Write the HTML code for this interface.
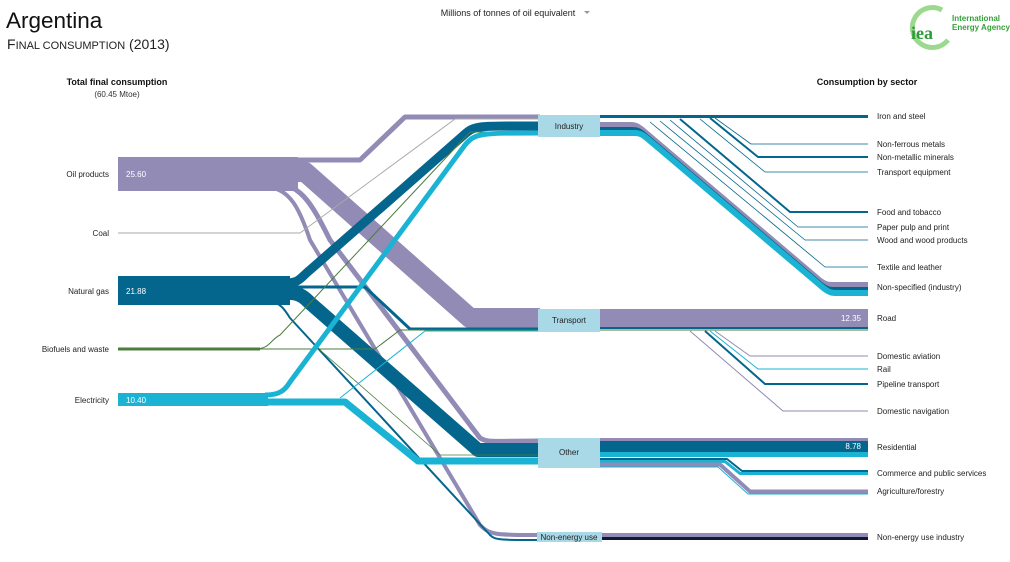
<!DOCTYPE html>
<html><head><meta charset="utf-8"><style>
html,body{margin:0;padding:0;background:#fff;}
body{width:1010px;height:562px;overflow:hidden;position:relative;font-family:"Liberation Sans",Arial,sans-serif;}
svg{position:absolute;left:0;top:0;}
</style></head><body>
<svg width="1010" height="562" viewBox="0 0 1010 562" xmlns="http://www.w3.org/2000/svg" font-family="Liberation Sans, Arial, sans-serif">
<g fill="none" stroke-linejoin="round" stroke-linecap="butt">
<rect x="118" y="157" width="180" height="34" fill="#928bb5" stroke="none"/>
<rect x="118" y="276" width="172" height="29" fill="#04668c" stroke="none"/>
<rect x="118" y="393" width="150" height="13" fill="#1ab3d4" stroke="none"/>
<line x1="118" y1="233" x2="300" y2="233" stroke="#aaa" stroke-width="1"/>
<line x1="118" y1="349" x2="260" y2="349" stroke="#4b7d3e" stroke-width="3"/>

<path d="M290 160 H360 L405 117 H540" stroke="#928bb5" stroke-width="5"/>
<path d="M290 172 H305 L470 318 H540" stroke="#928bb5" stroke-width="20"/>
<path d="M240 183 H270 C300 183 310 200 330 240 L480 438 C488 443 492 441 540 441" stroke="#928bb5" stroke-width="5"/>
<path d="M240 187 H265 C290 187 300 210 310 240 L480 525 C490 535 495 535 540 535" stroke="#928bb5" stroke-width="4"/>
<path d="M300 233 L455 119 H540" stroke="#aaa" stroke-width="1"/>
<path d="M285 283 C300 283 300 278 310 270 L465 134 C475 125 480 126 540 126" stroke="#04668c" stroke-width="9"/>
<path d="M235 287 H365 L410 329 H540" stroke="#04668c" stroke-width="3"/>
<path d="M230 293 H290 C300 293 305 298 310 303 L478 450 H540" stroke="#04668c" stroke-width="14"/>
<path d="M230 302 H270 C280 302 285 310 290 318 L490 535 C495 540 500 540 540 540" stroke="#04668c" stroke-width="2"/>
<path d="M255 349 C270 349 270 340 280 335 L470 132 H540" stroke="#4b7d3e" stroke-width="1"/>
<path d="M250 349 H375 L400 330 H540" stroke="#4b7d3e" stroke-width="1"/>
<path d="M320 350 L440 455 H540" stroke="#4b7d3e" stroke-width="0.8"/>
<path d="M265 395 C280 395 285 390 290 382 L465 145 C475 133 480 133 540 133" stroke="#1ab3d4" stroke-width="5"/>
<path d="M340 398 L425 331 H540" stroke="#1ab3d4" stroke-width="1"/>
<path d="M268 402 H345 L418 461 H540" stroke="#1ab3d4" stroke-width="7"/>

<rect x="538" y="115" width="62" height="22" fill="#a9d8e6" stroke="none"/>
<rect x="538" y="309" width="62" height="23" fill="#a9d8e6" stroke="none"/>
<rect x="538" y="438" width="62" height="30" fill="#a9d8e6" stroke="none"/>
<rect x="537" y="532" width="65" height="10" fill="#a9d8e6" stroke="none"/>

<path d="M600 116.5 H868" stroke="#04668c" stroke-width="3"/>
<path d="M715 118 L751 144 H868" stroke="#04668c" stroke-width="0.8"/>
<path d="M710 118 L758 157 H868" stroke="#04668c" stroke-width="2"/>
<path d="M700 119 L765 172 H868" stroke="#04668c" stroke-width="0.8"/>
<path d="M680 119 L790 212 H868" stroke="#04668c" stroke-width="2"/>
<path d="M670 120 L798 227 H868" stroke="#04668c" stroke-width="0.8"/>
<path d="M660 121 L805 240 H868" stroke="#04668c" stroke-width="0.8"/>
<path d="M650 122 L825 267 H868" stroke="#04668c" stroke-width="0.8"/>
<path d="M600 124.5 H630 C636 124.5 638 126 642 129 L820 280 C826 284.5 828 284.5 834 284.5 H868" stroke="#928bb5" stroke-width="5"/>
<path d="M600 128.5 H632 C638 128.5 640 130 644 133 L822 284 C828 288.5 830 288.5 836 288.5 H868" stroke="#04668c" stroke-width="3"/>
<path d="M600 133 H634 C640 133 642 134.5 646 137.5 L824 288.5 C830 293 832 293 838 293 H868" stroke="#1ab3d4" stroke-width="6"/>

<rect x="600" y="309" width="268" height="18" fill="#928bb5" stroke="none"/>
<path d="M600 328 H868" stroke="#04668c" stroke-width="2"/>
<path d="M600 330 H868" stroke="#4b7d3e" stroke-width="1"/>
<path d="M715 331 L750 356 H868" stroke="#928bb5" stroke-width="1"/>
<path d="M710 331 L758 369 H868" stroke="#1ab3d4" stroke-width="1"/>
<path d="M705 331 L765 384 H868" stroke="#04668c" stroke-width="2"/>
<path d="M690 331 L783 411 H868" stroke="#928bb5" stroke-width="1"/>

<rect x="600" y="438" width="268" height="3" fill="#928bb5" stroke="none"/>
<rect x="600" y="441" width="268" height="11" fill="#04668c" stroke="none"/>
<rect x="600" y="452" width="268" height="5" fill="#1ab3d4" stroke="none"/>
<path d="M600 459 H727 L742 471 H868" stroke="#04668c" stroke-width="2"/>
<path d="M600 461.5 H725 L740 473.5 H868" stroke="#1ab3d4" stroke-width="3"/>
<path d="M600 464.5 H720 L750 491.5 H868" stroke="#928bb5" stroke-width="4"/>
<path d="M600 467 H718 L748 494 H868" stroke="#1ab3d4" stroke-width="1"/>

<rect x="602" y="533" width="266" height="4" fill="#928bb5" stroke="none"/>
<rect x="602" y="537" width="266" height="3" fill="#0e1a35" stroke="none"/>
</g>

<text x="6" y="28" font-size="22.5" fill="#111">Argentina</text>
<text x="7" y="49" font-size="14" fill="#222">F<tspan font-size="11">INAL CONSUMPTION</tspan> (2013)</text>
<text x="508" y="16" font-size="9" fill="#222" text-anchor="middle">Millions of tonnes of oil equivalent</text>
<path d="M584 11 h6 l-3 3z" fill="#999"/>
<text x="117" y="85" font-size="9" font-weight="bold" fill="#111" text-anchor="middle">Total final consumption</text>
<text x="117" y="97" font-size="8" fill="#333" text-anchor="middle">(60.45 Mtoe)</text>
<text x="867" y="85" font-size="9" font-weight="bold" fill="#111" text-anchor="middle">Consumption by sector</text>

<g font-size="8" fill="#222" text-anchor="end">
<text x="109" y="177">Oil products</text>
<text x="109" y="236">Coal</text>
<text x="109" y="294">Natural gas</text>
<text x="109" y="352">Biofuels and waste</text>
<text x="109" y="403">Electricity</text>
</g>
<g font-size="8" fill="#fff">
<text x="126" y="177">25.60</text>
<text x="126" y="294">21.88</text>
<text x="126" y="403">10.40</text>
<text x="861" y="321" text-anchor="end">12.35</text>
<text x="861" y="449" text-anchor="end">8.78</text>
</g>
<g font-size="8" fill="#222" text-anchor="middle">
<text x="569" y="129">Industry</text>
<text x="569" y="323">Transport</text>
<text x="569" y="455">Other</text>
<text x="569" y="540">Non-energy use</text>
</g>
<g font-size="8" fill="#222">
<text x="877" y="119">Iron and steel</text>
<text x="877" y="147">Non-ferrous metals</text>
<text x="877" y="160">Non-metallic minerals</text>
<text x="877" y="175">Transport equipment</text>
<text x="877" y="215">Food and tobacco</text>
<text x="877" y="230">Paper pulp and print</text>
<text x="877" y="243">Wood and wood products</text>
<text x="877" y="270">Textile and leather</text>
<text x="877" y="290">Non-specified (industry)</text>
<text x="877" y="321">Road</text>
<text x="877" y="359">Domestic aviation</text>
<text x="877" y="372">Rail</text>
<text x="877" y="387">Pipeline transport</text>
<text x="877" y="414">Domestic navigation</text>
<text x="877" y="450">Residential</text>
<text x="877" y="476">Commerce and public services</text>
<text x="877" y="494">Agriculture/forestry</text>
<text x="877" y="540">Non-energy use industry</text>
</g>

<path d="M942 10 A20 20 0 1 0 948 40" fill="none" stroke="#9bd98f" stroke-width="5"/>
<text x="911" y="39" font-size="18" font-weight="bold" fill="#2e9a3a" font-family="Liberation Serif, serif">iea</text>
<text x="952" y="21" font-size="8" font-weight="bold" fill="#35a03a">International</text>
<text x="952" y="30" font-size="8" font-weight="bold" fill="#35a03a">Energy Agency</text>
</svg>
</body></html>
